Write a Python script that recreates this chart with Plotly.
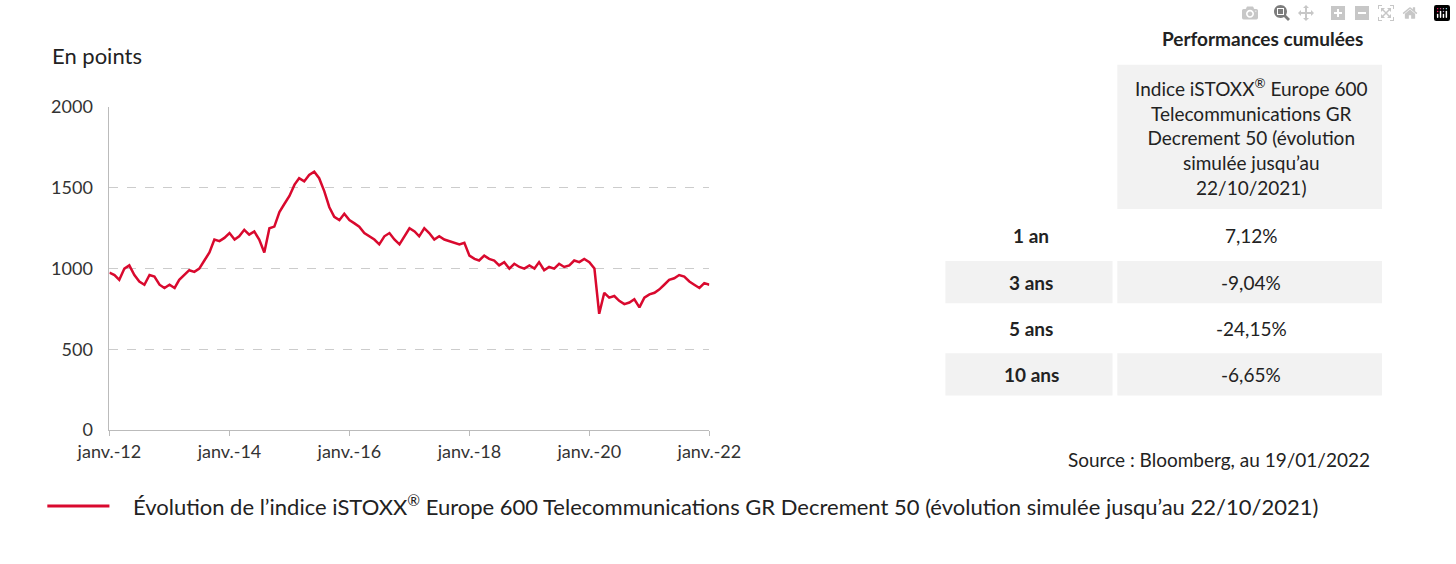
import plotly.graph_objects as go
import pandas as pd

W, H = 1456, 564
RED = "#d9092e"
GREY = "#f2f2f2"

# monthly index levels (janv.-12 .. janv.-22)
values = [
    975, 960, 930, 1000, 1020, 960, 920, 900, 960, 950, 900, 880,
    900, 880, 930, 960, 990, 980, 1000, 1050, 1100, 1180, 1170, 1190,
    1220, 1180, 1200, 1240, 1210, 1230, 1180, 1100, 1250, 1260, 1350, 1400,
    1450, 1520, 1560, 1540, 1580, 1600, 1560, 1480, 1380, 1320, 1300, 1340,
    1300, 1280, 1260, 1220, 1200, 1180, 1150, 1200, 1220, 1180, 1150, 1200,
    1250, 1230, 1200, 1250, 1220, 1180, 1200, 1180, 1170, 1160, 1150, 1160,
    1080, 1060, 1050, 1080, 1060, 1050, 1020, 1040, 1000, 1030, 1010, 1000,
    1020, 1000, 1040, 990, 1010, 1000, 1030, 1010, 1020, 1050, 1040, 1060,
    1040, 1000, 720, 850, 820, 830, 800, 780, 790, 810, 760, 820,
    840, 850, 870, 900, 930, 940, 960, 950, 920, 900, 880, 910,
    900,
]
dates = pd.date_range("2012-01-01", periods=len(values), freq="MS")

tick_dates = ["2012-01-01", "2014-01-01", "2016-01-01", "2018-01-01", "2020-01-01", "2022-01-01"]
tick_labels = ["janv.-12", "janv.-14", "janv.-16", "janv.-18", "janv.-20", "janv.-22"]

periods = ["1 an", "3 ans", "5 ans", "10 ans"]
perfs = ["7,12%", "-9,04%", "-24,15%", "-6,65%"]


def px(x):
    return x / W


def py(y):
    return 1 - y / H


fig = go.Figure(go.Scatter(x=dates, y=values, mode="lines",
                           line=dict(color=RED, width=2.5), hoverinfo="skip"))

fig.update_layout(
    width=W, height=H, margin=dict(l=0, r=0, t=0, b=0),
    paper_bgcolor="white", plot_bgcolor="white", showlegend=False,
    font=dict(family="Lato", color="#222"),
    xaxis=dict(domain=[px(80), px(708)], range=["2012-01-01", "2022-01-01"],
               tickvals=tick_dates, ticktext=tick_labels, showgrid=False,
               showline=True, linecolor="#bbb", ticks="outside", tickcolor="#bbb",
               ticklen=5, tickfont=dict(size=18, color="#333")),
    yaxis=dict(domain=[py(435), py(99)], range=[0, 2000], dtick=500,
               showgrid=True, gridcolor="#ccc", griddash="dash",
               showline=True, linecolor="#bbb", zeroline=False,
               tickfont=dict(size=18, color="#333"), ticklabelstandoff=12),
)

shapes = []
ann = []
ann.append(dict(text="En points", x=px(18), y=py(45), xanchor="left", font=dict(size=22)))

# table
ann.append(dict(text="<b>Performances cumulées</b>", x=px(1287), y=py(28), font=dict(size=19)))
shapes.append(dict(type="rect", xref="paper", yref="paper", x0=px(1135), x1=px(1412),
                   y0=py(205), y1=py(55), fillcolor=GREY, line_width=0, layer="below"))
ann.append(dict(text="Indice iSTOXX<sup>®</sup> Europe 600<br>Telecommunications GR<br>"
                     "Decrement 50 (évolution<br>simulée jusqu’au<br>22/10/2021)",
                x=px(1275), y=py(130), font=dict(size=19)))
for i, (p, v) in enumerate(zip(periods, perfs)):
    yc = 233 + i * 48
    if i % 2 == 1:
        shapes.append(dict(type="rect", xref="paper", yref="paper", x0=px(955), x1=px(1130),
                           y0=py(yc + 22), y1=py(yc - 22), fillcolor=GREY, line_width=0, layer="below"))
        shapes.append(dict(type="rect", xref="paper", yref="paper", x0=px(1135), x1=px(1412),
                           y0=py(yc + 22), y1=py(yc - 22), fillcolor=GREY, line_width=0, layer="below"))
    ann.append(dict(text=f"<b>{p}</b>", x=px(1045), y=py(yc), font=dict(size=19)))
    ann.append(dict(text=v, x=px(1275), y=py(yc), font=dict(size=19)))

ann.append(dict(text="Source : Bloomberg, au 19/01/2022", x=px(1402), y=py(466),
                xanchor="right", font=dict(size=19)))

# legend
shapes.append(dict(type="line", xref="paper", yref="paper", x0=px(15), x1=px(80),
                   y0=py(514), y1=py(514), line=dict(color=RED, width=3)))
ann.append(dict(text="Évolution de l’indice iSTOXX<sup>®</sup> Europe 600 Telecommunications GR "
                     "Decrement 50 (évolution simulée jusqu’au 22/10/2021)",
                x=px(103), y=py(514), xanchor="left", font=dict(size=22)))

for a in ann:
    a.update(xref="paper", yref="paper", showarrow=False)
    a.setdefault("xanchor", "center")
    a.setdefault("yanchor", "middle")
fig.update_layout(shapes=shapes, annotations=ann)

fig.write_html("out.html",
               post_script="document.body.style.margin='0';document.body.style.overflow='hidden';")
